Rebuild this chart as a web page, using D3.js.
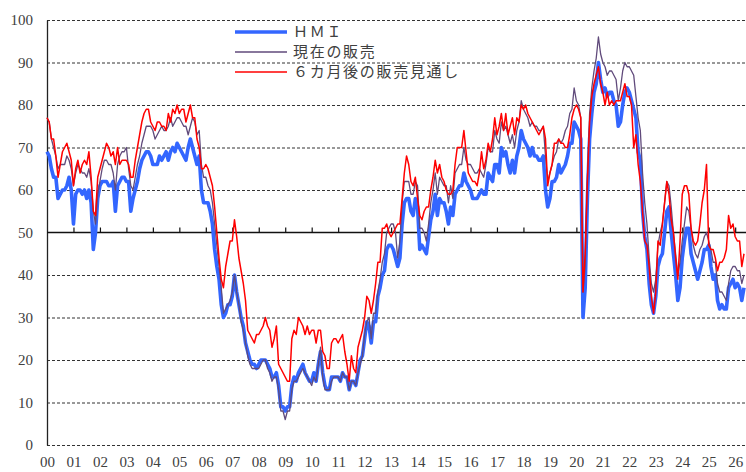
<!DOCTYPE html>
<html>
<head>
<meta charset="utf-8">
<script src="https://cdn.jsdelivr.net/npm/d3@7"></script>
<style>
body{margin:0;background:#fff;}
#chart{width:746px;height:472px;}
</style>
</head>
<body>
<div id="chart"></div>
<script>
// monthly values, Jan 2000 .. May 2026
const yearLabels=["00","01","02","03","04","05","06","07","08","09","10","11","12","13","14","15","16","17","18","19","20","21","22","23","24","25","26"];
const yTicks=[0,10,20,30,40,50,60,70,80,90,100];
const seriesNames=["ＨＭＩ","現在の販売","６カ月後の販売見通し"];

const hmi=[
69,68,65,63,63,58,59,60,60,61,63,60,
52,59,60,60,59,60,58,60,57,46,50,58,
61,62,62,62,61,61,62,55,61,62,63,63,
62,62,55,58,60,62,65,67,68,69,69,68,
66,66,66,68,67,68,69,67,69,70,69,71,
70,69,68,67,70,72,70,68,66,68,60,57,
57,57,55,52,46,42,39,33,30,31,33,33,
35,40,36,33,30,28,24,22,20,19,19,18,
19,20,20,20,19,18,16,16,17,14,9,9,
8,9,9,14,16,15,17,18,19,17,16,15,
15,17,15,19,22,17,14,13,13,16,16,16,
16,15,17,16,16,13,15,15,14,17,20,21,
25,29,28,24,29,29,35,37,40,41,46,47,
47,46,44,42,44,52,57,58,58,55,54,58,
56,46,47,46,45,49,53,55,59,54,58,57,
57,55,52,56,54,59,60,61,61,64,62,61,
60,58,58,58,59,60,59,59,64,63,62,66,
66,64,70,68,69,66,64,67,64,68,70,74,
72,71,70,68,70,68,68,67,67,68,60,56,
58,62,62,63,66,64,65,66,68,71,71,76,
75,74,72,30,37,58,72,78,83,85,90,86,
83,84,82,83,83,81,80,75,76,80,83,84,
83,81,79,77,69,67,55,49,46,38,33,31,
35,42,44,45,50,55,56,50,45,40,34,37,
44,48,51,51,45,43,41,39,41,43,46,46,
47,42,39,40,34,32,33,32,32,37,38,39,
37,38,37,34,37
];

const currentSales=[
77,76,72,70,68,65,66,66,66,68,67,65,
61,64,66,65,64,64,63,65,62,55,52,59,
62,65,67,67,66,66,64,60,66,68,69,69,
70,65,61,60,63,66,68,71,73,75,75,75,
74,72,73,74,75,74,74,75,77,75,76,77,
77,76,75,75,73,75,77,76,73,74,66,63,
63,61,60,57,52,47,42,37,31,32,33,34,
36,40,36,33,29,27,24,21,19,18,18,18,
18,19,20,20,18,17,15,16,16,13,8,8,
6,8,8,13,15,15,16,17,18,17,16,15,
14,16,15,19,23,16,13,13,13,15,16,16,
16,15,17,16,16,13,15,15,14,17,19,21,
26,29,30,25,31,31,36,39,43,45,50,51,
52,52,50,44,48,57,62,62,62,59,59,62,
61,51,51,50,48,52,57,60,64,59,63,62,
61,61,57,61,58,64,65,66,66,70,67,66,
66,65,64,64,65,64,63,66,70,69,69,74,
72,71,76,74,75,73,71,73,70,74,76,81,
79,78,77,75,76,75,75,74,74,75,68,62,
64,66,68,69,72,71,72,74,75,78,79,84,
81,80,77,36,42,63,78,84,88,91,96,92,
90,89,87,88,88,87,86,81,84,88,90,89,
89,88,87,82,77,74,64,57,52,44,38,36,
39,47,50,52,57,62,61,56,50,45,40,43,
48,52,56,55,51,47,45,44,46,47,49,50,
48,46,43,43,38,36,36,35,34,38,41,42,
42,41,41,38,40
];

const futureSales=[
77,76,72,72,68,63,66,69,70,71,69,67,
61,65,67,64,66,67,66,69,63,55,54,63,
65,67,69,71,70,68,69,66,70,66,67,67,
67,66,63,63,67,70,73,76,78,79,79,76,
75,74,76,76,75,75,74,78,76,79,78,80,
78,79,79,76,78,80,77,77,72,70,65,65,
66,65,63,61,56,50,44,39,37,42,45,48,
48,53,49,44,41,38,34,27,26,25,24,26,
26,27,28,30,28,27,23,25,28,19,18,17,
16,15,15,25,27,26,30,29,28,26,28,26,
27,27,24,27,27,22,21,18,18,24,25,25,
24,25,26,22,19,15,21,18,17,23,25,27,
30,35,34,31,34,38,43,43,51,51,52,50,
49,50,51,52,52,58,64,68,66,62,61,63,
58,54,53,55,56,56,60,63,67,64,66,63,
62,60,59,59,60,66,70,70,70,74,69,64,
63,62,62,61,64,69,65,67,71,69,72,77,
73,75,78,74,78,73,75,77,73,77,76,80,
79,80,78,77,76,75,74,73,74,75,72,61,
64,66,71,71,72,71,71,70,70,73,77,79,
80,79,77,36,45,62,76,82,85,87,89,85,
83,80,83,80,81,80,81,81,81,83,85,82,
82,80,70,73,66,62,55,48,47,42,35,31,
36,48,47,52,57,62,59,53,50,44,39,48,
59,61,61,59,51,48,47,48,52,57,60,66,
47,46,46,44,41,43,43,44,46,54,51,52,
49,48,48,42,45
];

(function(){
    let W=746,H=472;
    let left=47,right=746,top=20,bottom=445;
    let numFont="'Liberation Serif','DejaVu Serif',serif";
    let jpFont="'Noto Sans CJK JP','Noto Sans',sans-serif";
    let textColor="#404040";

    let svg=d3.select("#chart").append("svg")
        .attr("width",W).attr("height",H);

    let x=d3.scaleLinear().domain([0,hmi.length-1]).range([left,744]);
    let y=d3.scaleLinear().domain([0,100]).range([bottom,top]);
    let yearTicks=yearLabels.map(function(d,i){return i*12});

    //dashed grid
    let grid=svg.append("g")
        .attr("transform","translate("+left+",0)")
        .call(d3.axisLeft(y).tickValues(yTicks.filter(function(v){return v!==50}))
            .tickSize(-(right-left)).tickFormat(""));
    grid.select(".domain").remove();
    grid.selectAll("line")
        .attr("stroke","#333")
        .attr("stroke-width",1)
        .attr("stroke-dasharray","3,2");

    //y axis with labels
    let ya=svg.append("g")
        .attr("transform","translate("+left+",0)")
        .call(d3.axisLeft(y).tickValues(yTicks).tickSize(0).tickSizeOuter(0).tickPadding(14));
    ya.select(".domain").attr("stroke","#222").attr("stroke-width",1.3);
    ya.selectAll("text")
        .attr("font-family",numFont)
        .attr("font-size",15)
        .attr("fill",textColor);

    //axis crossing at 50 with year ticks pointing up
    svg.append("line")
        .attr("x1",left).attr("x2",right)
        .attr("y1",y(50)).attr("y2",y(50))
        .attr("stroke","#111").attr("stroke-width",1.3);
    let xa=svg.append("g")
        .attr("transform","translate(0,"+y(50)+")")
        .call(d3.axisTop(x).tickValues(yearTicks.slice(1)).tickSize(5).tickSizeOuter(0).tickFormat(""));
    xa.select(".domain").remove();
    xa.selectAll("line").attr("stroke","#111").attr("stroke-width",1.2);

    //year labels below the chart
    let xl=svg.append("g")
        .attr("transform","translate(0,"+bottom+")")
        .call(d3.axisBottom(x).tickValues(yearTicks).tickSize(0).tickPadding(11)
            .tickFormat(function(d){return yearLabels[d/12]}));
    xl.select(".domain").remove();
    xl.selectAll("text")
        .attr("font-family",numFont)
        .attr("font-size",15)
        .attr("fill",textColor);

    let line=d3.line()
        .x(function(d,i){return x(i)})
        .y(function(d){return y(d)});

    let series=[
        {name:seriesNames[0],data:hmi,color:"#3366ff",width:3.6},
        {name:seriesNames[1],data:currentSales,color:"#604a7b",width:1.3},
        {name:seriesNames[2],data:futureSales,color:"#ff0000",width:1.5}
    ];
    series.forEach(function(s){
        svg.append("path")
            .datum(s.data)
            .attr("fill","none")
            .attr("stroke",s.color)
            .attr("stroke-width",s.width)
            .attr("stroke-linejoin","round")
            .attr("d",line);
    });

    //legend
    let lg=svg.append("g").attr("transform","translate(235,32)");
    series.forEach(function(s,i){
        let row=lg.append("g").attr("transform","translate(0,"+(i*20)+")");
        row.append("line")
            .attr("x1",0).attr("x2",52)
            .attr("stroke",s.color)
            .attr("stroke-width",s.width);
        row.append("text")
            .attr("x",58).attr("y",0)
            .attr("dy","0.35em")
            .attr("font-family",jpFont)
            .attr("font-size",15)
            .attr("letter-spacing","1.7px")
            .attr("fill",textColor)
            .text(s.name);
    });
})();
</script>
</body>
</html>
